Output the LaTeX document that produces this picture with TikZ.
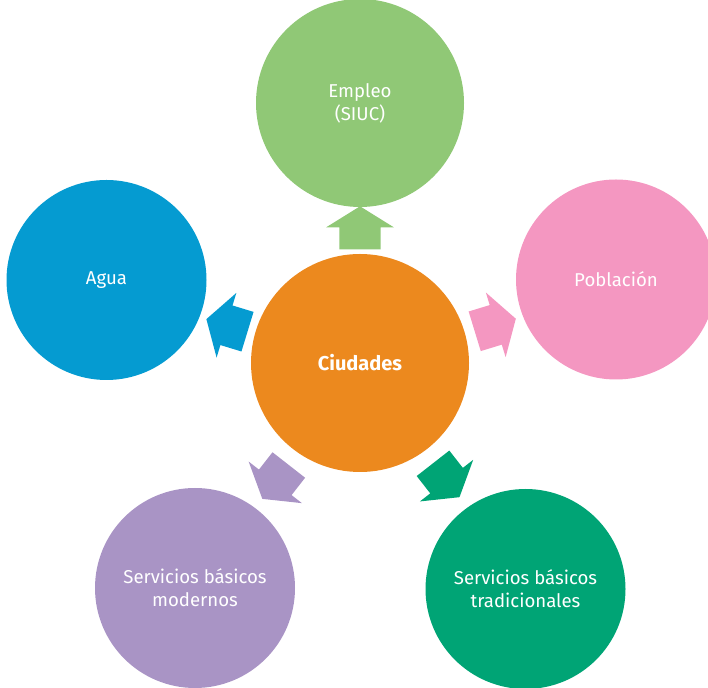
\documentclass[tikz,border=0pt]{standalone}
\usepackage{fontspec}
\setmainfont{Fira Sans}
\definecolor{corange}{RGB}{236,137,30}
\definecolor{cgreen}{RGB}{144,200,118}
\definecolor{cblue}{RGB}{5,155,209}
\definecolor{cpink}{RGB}{244,151,193}
\definecolor{cpurple}{RGB}{169,148,197}
\definecolor{cdkgreen}{RGB}{0,164,117}
\tikzset{
  bubble/.style={circle, inner sep=0pt, text=white, align=center,
    font=\fontsize{18.6}{23}\selectfont},
  barrow/.pic={\fill[#1] (0,-20.7) -- (22,-20.7) -- (22,-33.8) -- (43,0)
    -- (22,33.8) -- (22,20.7) -- (0,20.7) -- cycle;}
}
\begin{document}
\begin{tikzpicture}[x=1pt,y=1pt]
\useasboundingbox (0,0) rectangle (708,687);
\clip (0,0) rectangle (708,687);
\node[bubble, fill=corange, minimum size=218pt, font=\fontsize{20}{23}\selectfont\bfseries] (c) at (360,324) {Ciudades};
\node[bubble, fill=cgreen, minimum size=208pt] (emp) at (360,584) {Empleo\\(SIUC)};
\node[bubble, fill=cblue, minimum size=200pt] (agua) at (106.5,407) {Agua};
\node[bubble, fill=cpink, minimum size=200pt] (pob) at (616,407.5) {Población};
\node[bubble, fill=cpurple, minimum size=200pt] (mod) at (195,99) {Servicios básicos\\modernos};
\node[bubble, fill=cdkgreen, minimum size=200pt] (trad) at (525.5,98) {Servicios básicos\\tradicionales};
\pic[rotate=90] at (360,437.7) {barrow=cgreen};
\pic[rotate=163] at (247.5,355.3) {barrow=cblue};
\pic[rotate=17] at (474.7,355.7) {barrow=cpink};
\pic[rotate=232] at (288.8,222) {barrow=cpurple};
\pic[rotate=308] at (433,223.7) {barrow=cdkgreen};
\end{tikzpicture}
\end{document}
